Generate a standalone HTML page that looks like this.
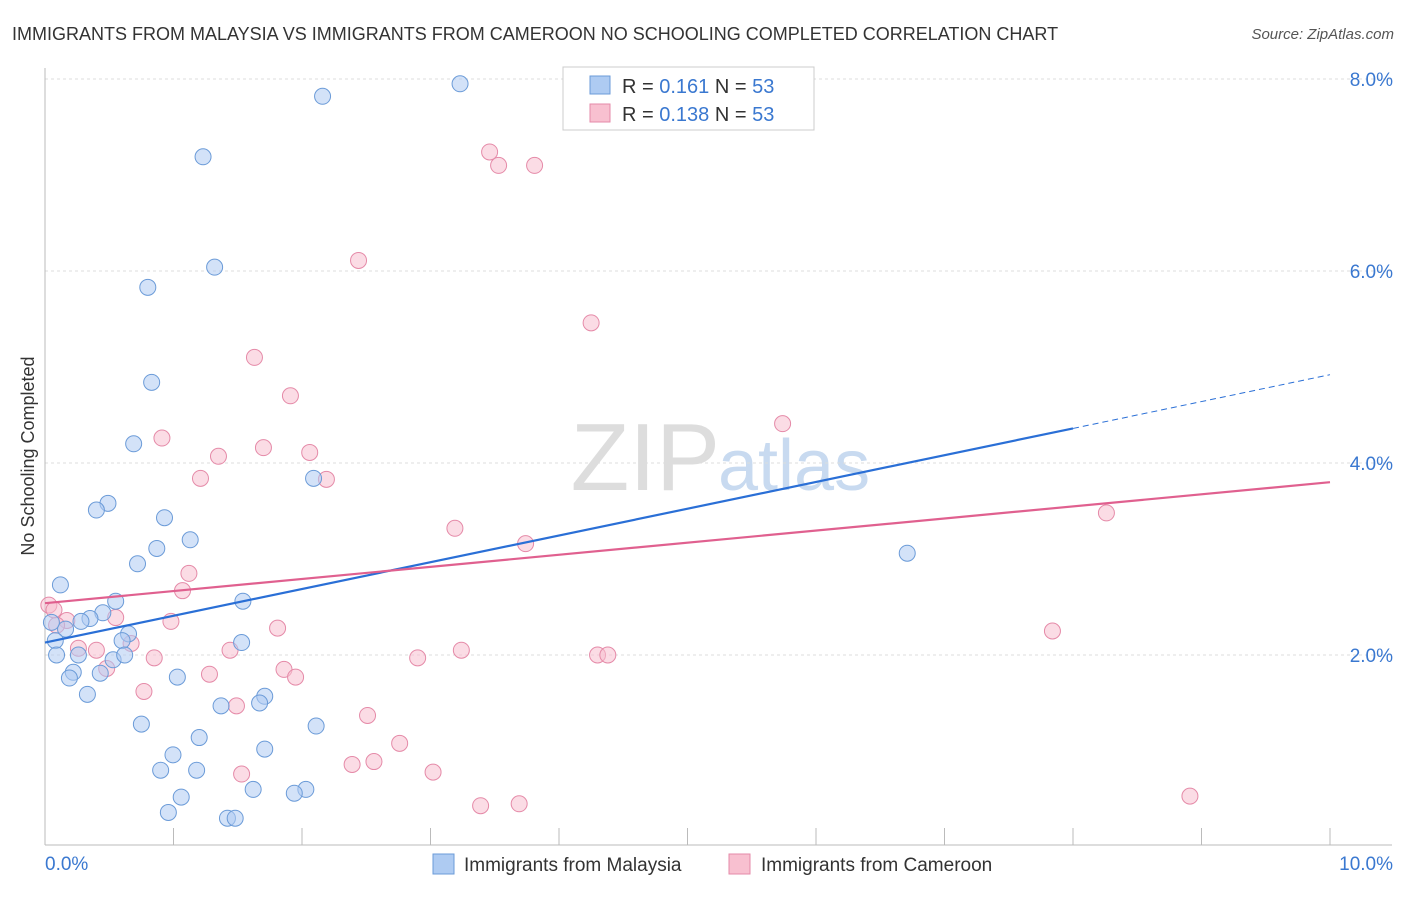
<!DOCTYPE html>
<html><head><meta charset="utf-8"><style>
body{margin:0;background:#fff;font-family:"Liberation Sans",sans-serif;}
svg text{font-family:"Liberation Sans",sans-serif;}
</style></head><body>
<svg id="chart" width="1406" height="892">
<text x="12" y="40" font-size="18" fill="#333">IMMIGRANTS FROM MALAYSIA VS IMMIGRANTS FROM CAMEROON NO SCHOOLING COMPLETED CORRELATION CHART</text>
<text x="1394" y="39" font-size="15" fill="#555" font-style="italic" text-anchor="end">Source: ZipAtlas.com</text>
<text x="34" y="456" font-size="18" fill="#333" text-anchor="middle" transform="rotate(-90 34 456)">No Schooling Completed</text>
<text x="720" y="490" font-size="96" fill="#ddd" text-anchor="end" font-family="Liberation Serif">ZIP</text>
<text x="718" y="490" font-size="72" fill="#c8daf0">atlas</text>
<g id="grid"></g><g id="axes"></g><g id="pts"></g><g id="trend"></g>
<g>
<rect x="563" y="67" width="251" height="63" fill="#fff" stroke="#ccc"/>
<rect x="590" y="76" width="20" height="18" fill="#aecbf2" stroke="#6b9bd8"/>
<rect x="590" y="104" width="20" height="18" fill="#f8c0d0" stroke="#e58aa8"/>
<text x="622" y="93" font-size="20" fill="#333">R = <tspan fill="#3a78d0">0.161</tspan>   N = <tspan fill="#3a78d0">53</tspan></text>
<text x="622" y="121" font-size="20" fill="#333">R = <tspan fill="#3a78d0">0.138</tspan>   N = <tspan fill="#3a78d0">53</tspan></text>
</g>
<g>
<rect x="433" y="854" width="21" height="20" fill="#aecbf2" stroke="#6b9bd8"/>
<text x="464" y="871" font-size="19" fill="#333">Immigrants from Malaysia</text>
<rect x="729" y="854" width="21" height="20" fill="#f8c0d0" stroke="#e58aa8"/>
<text x="761" y="871" font-size="19" fill="#333">Immigrants from Cameroon</text>
</g>
</svg>
<script>
const xTicks=[0,1,2,3,4,5,6,7,8,9,10];
const yTicks=[2,4,6,8];
const malaysiaX=[3.23,2.16,1.23,1.32,0.80,0.83,0.69,0.49,0.40,0.93,1.13,0.87,0.72,0.12,0.55,1.54,0.45,0.35,0.28,0.16,0.05,0.08,0.09,0.65,0.60,1.53,0.26,0.53,0.62,0.22,0.43,0.19,1.03,0.33,1.71,1.67,1.37,0.75,2.11,1.20,1.71,0.00+0.996,0.90,1.18,1.62,2.03,1.94,1.06,0.96,1.42,1.48,2.09,6.71];
const malaysiaY=[7.95,7.82,7.19,6.04,5.83,4.84,4.20,3.58,3.51,3.43,3.20,3.11,2.95,2.73,2.56,2.56,2.44,2.38,2.35,2.27,2.34,2.15,2.00,2.22,2.15,2.13,2.00,1.95,2.00,1.82,1.81,1.76,1.77,1.59,1.57,1.50,1.47,1.28,1.26,1.14,1.02,0.96,0.80,0.80,0.60,0.60,0.56,0.52,0.36,0.30,0.30,3.84,3.06];
const cameroonX=[4.65,3.46,3.53,3.81,2.44,4.25,1.63,1.91,5.74,0.91,1.35,1.70,2.06,1.21,2.19,3.19,3.74,8.26,1.12,1.07,0.03,0.55,0.98,1.81,0.17,0.09,0.26,0.40,0.67,0.85,1.44,1.28,1.86,1.95,2.90,3.24,4.30,4.38,7.84,0.48,0.77,1.49,2.51,2.76,2.39,2.56,1.53,3.02,3.39,3.69,8.91,0.07];
const cameroonY=[8.0,7.24,7.10,7.10,6.11,5.46,5.10,4.70,4.41,4.26,4.07,4.16,4.11,3.84,3.83,3.32,3.16,3.48,2.85,2.67,2.52,2.39,2.35,2.28,2.36,2.31,2.07,2.05,2.12,1.97,2.05,1.80,1.85,1.77,1.97,2.05,2.00,2.00,2.25,1.86,1.62,1.47,1.37,1.08,0.86,0.89,0.76,0.78,0.43,0.45,0.53,2.47];
const trendX=[0,8,10];
const malaysiaTrend=[2.13,4.36,4.92];
const cameroonTrend=[2.54,3.52,3.80];
const NS='http://www.w3.org/2000/svg';
const X=v=>45+v*128.5, Y=v=>847-v*96;
function mk(tag,attrs,parent){const e=document.createElementNS(NS,tag);for(const k in attrs)e.setAttribute(k,attrs[k]);document.getElementById(parent).appendChild(e);return e;}
yTicks.forEach(t=>{
 const g=mk('line',{x1:45,x2:1392,y1:Y(t),y2:Y(t),stroke:'#ddd','stroke-dasharray':'3,3'},'grid');
 
 
 const l=mk('text',{x:1393,y:Y(t)+7,'font-size':19,fill:'#3a78d0','text-anchor':'end'},'grid');
 l.textContent=t.toFixed(1)+'%';
 
 
});
const ax=mk('line',{x1:45,x2:1392,y1:845,y2:845,stroke:'#bbb'},'axes');


const ay=mk('line',{x1:45,x2:45,y1:68,y2:845,stroke:'#bbb'},'axes');


xTicks.forEach(t=>{
 const tk=mk('line',{x1:X(t),x2:X(t),y1:828,y2:845,stroke:'#bbb'},'axes');
 
 
});
[[0,'0.0%','start',45],[10,'10.0%','end',1393]].forEach(a=>{
 const l=mk('text',{x:a[3],y:870,'font-size':19,fill:'#3a78d0','text-anchor':a[2]},'axes');
 l.textContent=a[1];
 
 
});
function pts(xs,ys,fill,stroke,name){xs.forEach((x,i)=>{
 const c=mk('circle',{cx:X(x),cy:Y(ys[i]),r:8,fill:fill,stroke:stroke,'stroke-width':1,'fill-opacity':0.55},'pts');
 
 
});}
pts(cameroonX,cameroonY,'#f8c0d0','#e58aa8','point-cameroon');
pts(malaysiaX,malaysiaY,'#aecbf2','#6b9bd8','point-malaysia');
const b1=mk('line',{x1:X(trendX[0]),y1:Y(malaysiaTrend[0]),x2:X(trendX[1]),y2:Y(malaysiaTrend[1]),stroke:'#2a6fd6','stroke-width':2.2},'trend');


const b2=mk('line',{x1:X(trendX[1]),y1:Y(malaysiaTrend[1]),x2:X(trendX[2]),y2:Y(malaysiaTrend[2]),stroke:'#2a6fd6','stroke-width':1,'stroke-dasharray':'6,4'},'trend');


const p1=mk('line',{x1:X(trendX[0]),y1:Y(cameroonTrend[0]),x2:X(trendX[2]),y2:Y(cameroonTrend[2]),stroke:'#e0608f','stroke-width':2.2},'trend');


</script>
</body></html>
